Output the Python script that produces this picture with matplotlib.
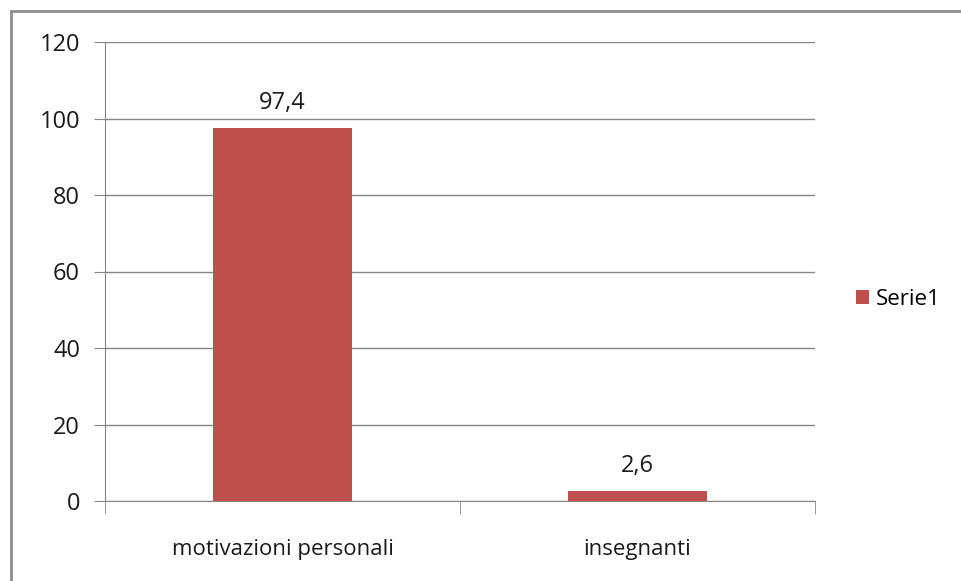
import numpy as np
import matplotlib.pyplot as plt
from matplotlib.patches import Rectangle

# dati del grafico
categorie = ['motivazioni personali', 'insegnanti']
valori = [97.4, 2.6]
etichette = ['97,4', '2,6']
serie = 'Serie1'
yticks = [0, 20, 40, 60, 80, 100, 120]

plt.rcParams['font.family'] = ['Open Sans', 'DejaVu Sans']
fs = 17

fig = plt.figure(figsize=(9.61, 5.81), dpi=100)
# cornice esterna (tagliata a destra e in basso)
fig.patches.append(Rectangle((11 / 961, -0.05), 1.1, 1 - 11 / 581 + 0.05,
                             transform=fig.transFigure, fill=False,
                             edgecolor='#8c8c8c', linewidth=2))

ax = fig.add_axes([105 / 961, 1 - 501 / 581, 710 / 961, 459 / 581])
x = np.arange(len(categorie))
barre = ax.bar(x, valori, width=0.394, color='#C0504D', label=serie, zorder=3)
for xi, v, t in zip(x, valori, etichette):
    ax.text(xi, v + 3.5, t, ha='center', va='bottom', fontsize=fs, color='#1a1a1a')

ax.set_xlim(-0.5, 1.5)
ax.set_ylim(0, 120)
ax.set_yticks(yticks)
ax.set_yticklabels([str(v) for v in yticks], fontsize=fs, color='#1a1a1a')
ax.yaxis.grid(True, color='#868686', linewidth=1, zorder=0)
ax.set_xticks(x)
ax.set_xticklabels(categorie, fontsize=16, color='#1a1a1a')
ax.tick_params(axis='x', length=0, pad=27)
ax.tick_params(axis='y', length=8, color='#868686', pad=10)
# tacche tra le categorie
ax.set_xticks([-0.5, 0.5, 1.5], minor=True)
ax.tick_params(axis='x', which='minor', length=9, color='#868686')

for s in ['top', 'right']:
    ax.spines[s].set_visible(False)
ax.spines['left'].set_color('#868686')
ax.spines['bottom'].set_color('#868686')

fig.legend(handles=[barre], labels=[serie], loc='center left',
           bbox_to_anchor=(836 / 961, 1 - 299 / 581), frameon=False,
           fontsize=16, handlelength=0.6, handleheight=0.6, handletextpad=0.3)

fig.savefig('out.png', dpi=100)
